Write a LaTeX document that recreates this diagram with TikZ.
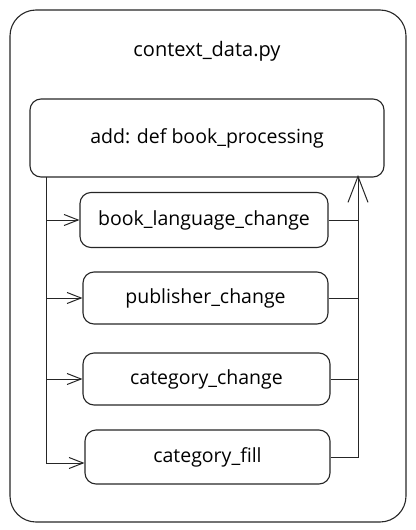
\documentclass[tikz,border=0pt]{standalone}
\usepackage{fontspec}
\setmainfont{Open Sans}
\usetikzlibrary{arrows.meta}
\begin{document}
\begin{tikzpicture}[x=1pt,y=-1pt,
  line width=1.1pt, draw=black!85,
  box/.style={draw, rounded corners=11pt, minimum height=54pt, inner sep=0pt, font=\fontsize{19.5}{23}\selectfont},
  conn/.style={line width=1pt},
  arr/.style={conn, -{Straight Barb[length=14pt,width=11pt]}},
  bigarr/.style={conn, -{Straight Barb[length=26pt,width=20pt]}}]
\useasboundingbox (0,0) rectangle (415,530);
\node[draw, rounded corners=26pt, minimum width=396pt, minimum height=512pt] (outer) at (208,266) {};
\node[font=\fontsize{20}{24}\selectfont] (title) at (207,51) {context\_data.py};
\node[box, minimum width=354pt, minimum height=78pt] (top) at (207,138) {add: def book\_processing};
\node[box, minimum width=248pt, minimum height=55pt] (b1) at (204,220) {book\_language\_change};
\node[box, minimum width=245pt, minimum height=52pt] (b2) at (205.5,298) {publisher\_change};
\node[box, minimum width=247pt, minimum height=52pt] (b3) at (206.5,379) {category\_change};
\node[box, minimum width=245pt, minimum height=54pt] (b4) at (207.5,457) {category\_fill};
\coordinate (L0) at (46,177);
\coordinate (L4) at (46,463);
\coordinate (R) at (358,175);
\draw[conn] (L0) -- (L4);
\draw[arr] (b1.west -| L0) -- (b1.west);
\draw[arr] (b2.west -| L0) -- (b2.west);
\draw[arr] (b3.west -| L0) -- (b3.west);
\draw[arr] (L4) -- (L4 -| b4.west);
\draw[bigarr] (b4.east) -| (R);
\draw[conn] (b1.east) -- (b1.east -| R);
\draw[conn] (b2.east) -- (b2.east -| R);
\draw[conn] (b3.east) -- (b3.east -| R);
\end{tikzpicture}
\end{document}
